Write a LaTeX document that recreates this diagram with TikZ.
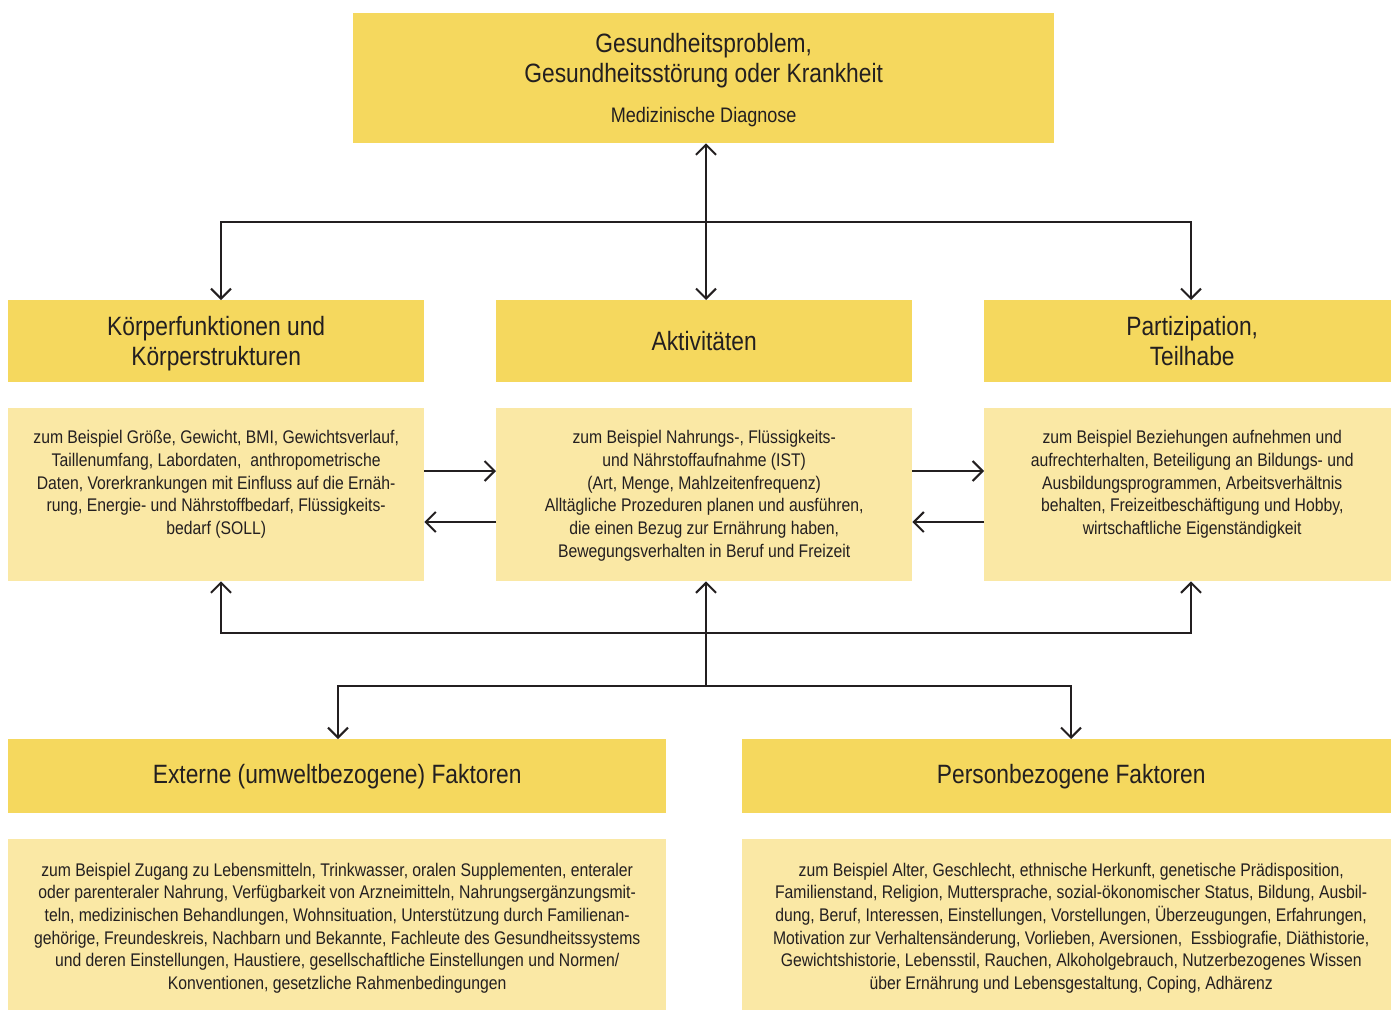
\documentclass[tikz,border=0pt]{standalone}
\usepackage{fontspec}
\setmainfont[FakeStretch=0.86]{Liberation Sans}
\usetikzlibrary{arrows.meta,calc}
\definecolor{hdr}{RGB}{245,216,94}
\definecolor{cnt}{RGB}{250,232,165}
\definecolor{ink}{RGB}{35,31,32}
\newcommand{\titlefont}{\fontsize{26.5}{30}\selectfont}
\newcommand{\subfont}{\fontsize{21}{24}\selectfont}
\newcommand{\bodyfont}{\fontsize{18.3}{22.7}\selectfont}
\begin{document}
\begin{tikzpicture}[x=1pt,y=-1pt,
  hbox/.style={fill=hdr, draw=none, inner sep=0pt, anchor=north west, align=center, text=ink, font=\titlefont},
  cbox/.style={fill=cnt, draw=none, inner sep=0pt, anchor=north west},
  ctext/.style={inner sep=0pt, align=center, text=ink, font=\bodyfont},
  conn/.style={draw=ink, line width=2pt},
  arr/.style={conn, -{Straight Barb[length=10pt,width=20pt]}},
  arrb/.style={conn, {Straight Barb[length=10pt,width=20pt]}-{Straight Barb[length=10pt,width=20pt]}}
]
\useasboundingbox (0,0) rectangle (1391,1010);

% top box
\node[hbox, minimum width=701pt, minimum height=130pt] (top) at (353,13) {};
\node[inner sep=0pt, align=center, text=ink, font=\titlefont, anchor=north] (toptxt) at ($(top.north)+(0,20)$)
  {Gesundheitsproblem,\\Gesundheitsstörung oder Krankheit\\[10pt]{\subfont Medizinische Diagnose}};

% row 2 headers
\node[hbox, minimum width=416pt, minimum height=82pt] (kh) at (8,300) {};
\node[inner sep=0pt, align=center, text=ink, font=\titlefont] (khtxt) at ($(kh.center)+(0,2)$) {Körperfunktionen und\\Körperstrukturen};
\node[hbox, minimum width=416pt, minimum height=82pt] (ah) at (496,300) {Aktivitäten};
\node[hbox, minimum width=416pt, minimum height=82pt] (ph) at (984,300) {Partizipation,\\Teilhabe};

% row 3 content
\node[cbox, minimum width=416pt, minimum height=173pt] (kb) at (8,408) {};
\node[cbox, minimum width=416pt, minimum height=173pt] (ab) at (496,408) {};
\node[cbox, minimum width=416pt, minimum height=173pt] (pb) at (984,408) {};

\node[ctext] (at) at ($(ab.center)+(0,1)$) {zum Beispiel Nahrungs-, Flüssigkeits-\\
und Nährstoffaufnahme (IST)\\
(Art, Menge, Mahlzeitenfrequenz)\\
Alltägliche Prozeduren planen und ausführen,\\
die einen Bezug zur Ernährung haben,\\
Bewegungsverhalten in Beruf und Freizeit};
\node[ctext, anchor=north] (kt) at (at.north -| kb.center) {zum Beispiel Größe, Gewicht, BMI, Gewichtsverlauf,\\
Taillenumfang, Labordaten,\ \ anthropometrische\\
Daten, Vorerkrankungen mit Einfluss auf die Ernäh-\\
rung, Energie- und Nährstoffbedarf, Flüssigkeits-\\
bedarf (SOLL)};
\node[ctext, anchor=north] (pt) at (at.north -| pb.center) {zum Beispiel Beziehungen aufnehmen und\\
aufrechterhalten, Beteiligung an Bildungs- und\\
Ausbildungsprogrammen, Arbeitsverhältnis\\
behalten, Freizeitbeschäftigung und Hobby,\\
wirtschaftliche Eigenständigkeit};

% row 4 headers
\node[hbox, minimum width=658pt, minimum height=74pt] (eh) at (8,739) {Externe (umweltbezogene) Faktoren};
\node[hbox, minimum width=658pt, minimum height=74pt] (prh) at (742,739) {Personbezogene Faktoren};

% row 5 content
\node[cbox, minimum width=658pt, minimum height=171pt] (eb) at (8,839) {};
\node[cbox, minimum width=658pt, minimum height=171pt] (prb) at (742,839) {};
\node[ctext] (et) at ($(eb.center)+(0,3.5)$) {zum Beispiel Zugang zu Lebensmitteln, Trinkwasser, oralen Supplementen, enteraler\\
oder parenteraler Nahrung, Verfügbarkeit von Arzneimitteln, Nahrungsergänzungsmit-\\
teln, medizinischen Behandlungen, Wohnsituation, Unterstützung durch Familienan-\\
gehörige, Freundeskreis, Nachbarn und Bekannte, Fachleute des Gesundheitssystems\\
und deren Einstellungen, Haustiere, gesellschaftliche Einstellungen und Normen/\\
Konventionen, gesetzliche Rahmenbedingungen};
\node[ctext] (prt) at ($(prb.center)+(0,3.5)$) {zum Beispiel Alter, Geschlecht, ethnische Herkunft, genetische Prädisposition,\\
Familienstand, Religion, Muttersprache, sozial-ökonomischer Status, Bildung, Ausbil-\\
dung, Beruf, Interessen, Einstellungen, Vorstellungen, Überzeugungen, Erfahrungen,\\
Motivation zur Verhaltensänderung, Vorlieben, Aversionen,\ \ Essbiografie, Diäthistorie,\\
Gewichtshistorie, Lebensstil, Rauchen, Alkoholgebrauch, Nutzerbezogenes Wissen\\
über Ernährung und Lebensgestaltung, Coping, Adhärenz};

% junction coordinates
\coordinate (tc) at (706,222);
\coordinate (tl) at (221,222);
\coordinate (tr) at (1191,222);
\coordinate (ya) at (0,471);
\coordinate (yb) at (0,522);
\coordinate (bl) at (221,633);
\coordinate (br) at (1191,633);
\coordinate (bm) at (706,686);
\coordinate (bml) at (338,686);
\coordinate (bmr) at (1071,686);

% top connectors
\draw[arrb] (tc |- top.south) -- (tc |- ah.north);
\draw[arr] (tr) -- (tl) -- (tl |- kh.north);
\draw[arr] (tl) -- (tr) -- (tr |- ph.north);

% horizontal connectors between content boxes
\draw[arr] (kb.east |- ya) -- (ab.west |- ya);
\draw[arr] (ab.west |- yb) -- (kb.east |- yb);
\draw[arr] (ab.east |- ya) -- (pb.west |- ya);
\draw[arr] (pb.west |- yb) -- (ab.east |- yb);

% bottom connectors
\draw[arr] (br) -- (bl) -- (bl |- kb.south);
\draw[arr] (bl) -- (br) -- (br |- pb.south);
\draw[arr] (bm) -- (bm |- ab.south);
\draw[arr] (bmr) -- (bml) -- (bml |- eh.north);
\draw[arr] (bml) -- (bmr) -- (bmr |- prh.north);
\end{tikzpicture}
\end{document}
